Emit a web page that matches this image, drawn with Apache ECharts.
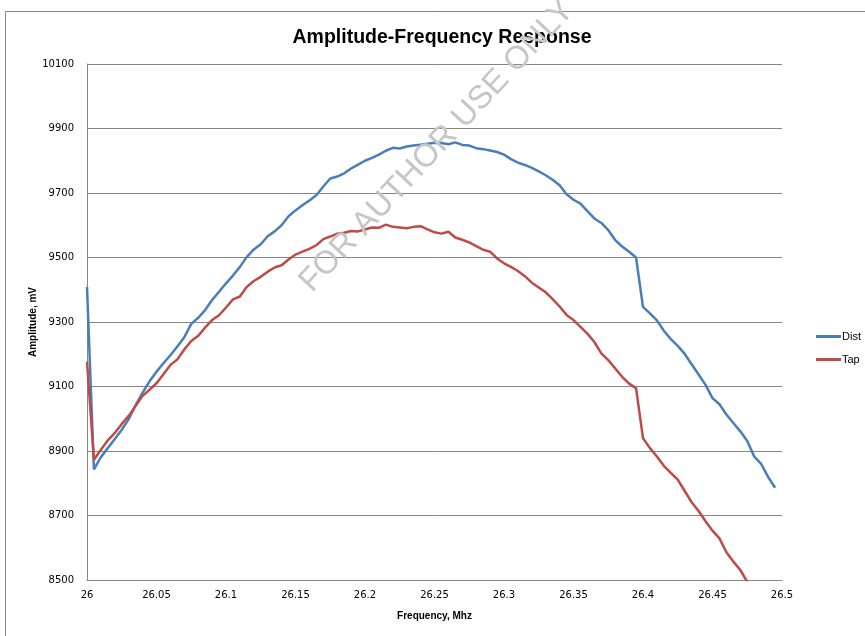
<!DOCTYPE html>
<html>
<head>
<meta charset="utf-8">
<script src="https://cdn.jsdelivr.net/npm/echarts@6/dist/echarts.min.js"></script>
<style>html,body{margin:0;padding:0;background:#fff}#c{width:865px;height:636px}</style>
</head>
<body>
<div id="c"></div>
<script>
const freq = [26.000,26.005,26.010,26.015,26.020,26.025,26.030,26.035,26.040,26.045,
26.050,26.055,26.060,26.065,26.070,26.075,26.080,26.085,26.090,26.095,
26.100,26.105,26.110,26.115,26.120,26.125,26.130,26.135,26.140,26.145,
26.150,26.155,26.160,26.165,26.170,26.175,26.180,26.185,26.190,26.195,
26.200,26.205,26.210,26.215,26.220,26.225,26.230,26.235,26.240,26.245,
26.250,26.255,26.260,26.265,26.270,26.275,26.280,26.285,26.290,26.295,
26.300,26.305,26.310,26.315,26.320,26.325,26.330,26.335,26.340,26.345,
26.350,26.355,26.360,26.365,26.370,26.375,26.380,26.385,26.390,26.395,
26.400,26.405,26.410,26.415,26.420,26.425,26.430,26.435,26.440,26.445,
26.450,26.455,26.460,26.465,26.470,26.475,26.480,26.485,26.490,26.495];

const dist = [9409,8843,8881,8909,8937,8966,8999,9042,9081,9116,
9146,9172,9197,9224,9253,9294,9313,9337,9368,9394,
9420,9444,9471,9502,9525,9541,9566,9581,9600,9628,
9646,9662,9677,9693,9720,9745,9751,9761,9776,9788,
9800,9809,9819,9831,9840,9838,9844,9847,9850,9853,
9856,9855,9851,9857,9849,9847,9839,9836,9832,9827,
9819,9805,9794,9787,9778,9767,9755,9741,9724,9696,
9679,9667,9644,9621,9607,9585,9554,9534,9518,9500,
9347,9327,9305,9273,9247,9226,9201,9169,9137,9105,
9064,9045,9013,8987,8961,8931,8883,8860,8820,8786];

const tap = [9177,8873,8904,8933,8956,8984,9009,9040,9071,9090,
9110,9138,9167,9184,9215,9241,9257,9283,9306,9321,
9345,9370,9379,9409,9427,9440,9456,9469,9476,9494,
9509,9518,9527,9538,9557,9565,9574,9577,9582,9581,
9587,9593,9592,9602,9595,9593,9591,9595,9597,9587,
9578,9574,9580,9562,9555,9547,9535,9524,9518,9497,
9482,9471,9458,9442,9422,9407,9392,9371,9348,9322,
9306,9285,9264,9238,9203,9182,9156,9130,9109,9095,
8940,8909,8883,8854,8832,8811,8776,8741,8714,8682,
8653,8629,8586,8557,8531,8494,8466];

const seriesNames = ['Dist', 'Tap'];
const titleText = 'Amplitude-Frequency Response';
const xName = 'Frequency, Mhz';
const yName = 'Amplitude, mV';
const watermark = 'FOR AUTHOR USE ONLY';

const chart = echarts.init(document.getElementById('c'), null, {renderer: 'canvas'});
const axisFont = 'DejaVu Sans';
const boldFont = 'Liberation Sans';

chart.setOption({
  animation: false,
  backgroundColor: '#fff',
  title: {
    text: titleText,
    left: 437, top: 23, textAlign: 'center',
    textStyle: {fontFamily: boldFont, fontSize: 19.5, fontWeight: 'bold', color: '#000'}
  },
  legend: {
    orient: 'vertical',
    left: 811, top: 326,
    itemWidth: 25, itemHeight: 3, itemGap: 12,
    icon: 'rect',
    data: seriesNames,
    textStyle: {fontFamily: boldFont, fontSize: 11, color: '#000', padding: [0,0,0,-4]}
  },
  grid: {left: 87, right: 83, top: 64, bottom: 56, containLabel: false},
  xAxis: {
    type: 'value', min: 26, max: 26.5, interval: 0.05,
    name: xName, nameLocation: 'middle', nameGap: 31,
    nameTextStyle: {fontFamily: boldFont, fontSize: 10, fontWeight: 'bold', color: '#000'},
    axisLine: {show: true, lineStyle: {color: '#868686', width: 1}},
    axisTick: {show: false},
    splitLine: {show: false},
    axisLabel: {fontFamily: axisFont, fontSize: 10, color: '#000', margin: 10,
      formatter: v => String(Math.round(v * 100) / 100)}
  },
  yAxis: {
    type: 'value', min: 8500, max: 10100, interval: 200,
    name: yName, nameLocation: 'middle', nameGap: 49, nameRotate: 90,
    nameMoveOverlap: false,
    nameTextStyle: {fontFamily: boldFont, fontSize: 10, fontWeight: 'bold', color: '#000'},
    axisLine: {show: true, lineStyle: {color: '#868686', width: 1}},
    axisTick: {show: false},
    splitLine: {show: true, lineStyle: {color: '#868686', width: 1}},
    axisLabel: {fontFamily: axisFont, fontSize: 10, color: '#000', margin: 13,
      formatter: v => String(Math.round(v))}
  },
  graphic: [
    {type: 'rect', shape: {x: 5.5, y: 11.5, width: 1000, height: 1000},
      style: {fill: null, stroke: '#888', lineWidth: 1}, silent: true, z: 0},
    {type: 'text', x: 437, y: 146, rotation: 47 * Math.PI / 180,
      style: {text: watermark, fontFamily: 'Liberation Sans', fontSize: 32.5,
        fill: '#c6c6c6', align: 'center', verticalAlign: 'middle'}, z: 100, silent: true}
  ],
  series: [
    {name: seriesNames[0], type: 'line', showSymbol: false, symbol: 'none',
      data: freq.map((f, i) => [f, dist[i]]),
      lineStyle: {color: '#4A7EBB', width: 2.5}, itemStyle: {color: '#4A7EBB'}, clip: true},
    {name: seriesNames[1], type: 'line', showSymbol: false, symbol: 'none',
      data: tap.map((v, i) => [freq[i], v]),
      lineStyle: {color: '#BE4B48', width: 2.5}, itemStyle: {color: '#BE4B48'}, clip: true}
  ]
});
</script>
</body>
</html>
